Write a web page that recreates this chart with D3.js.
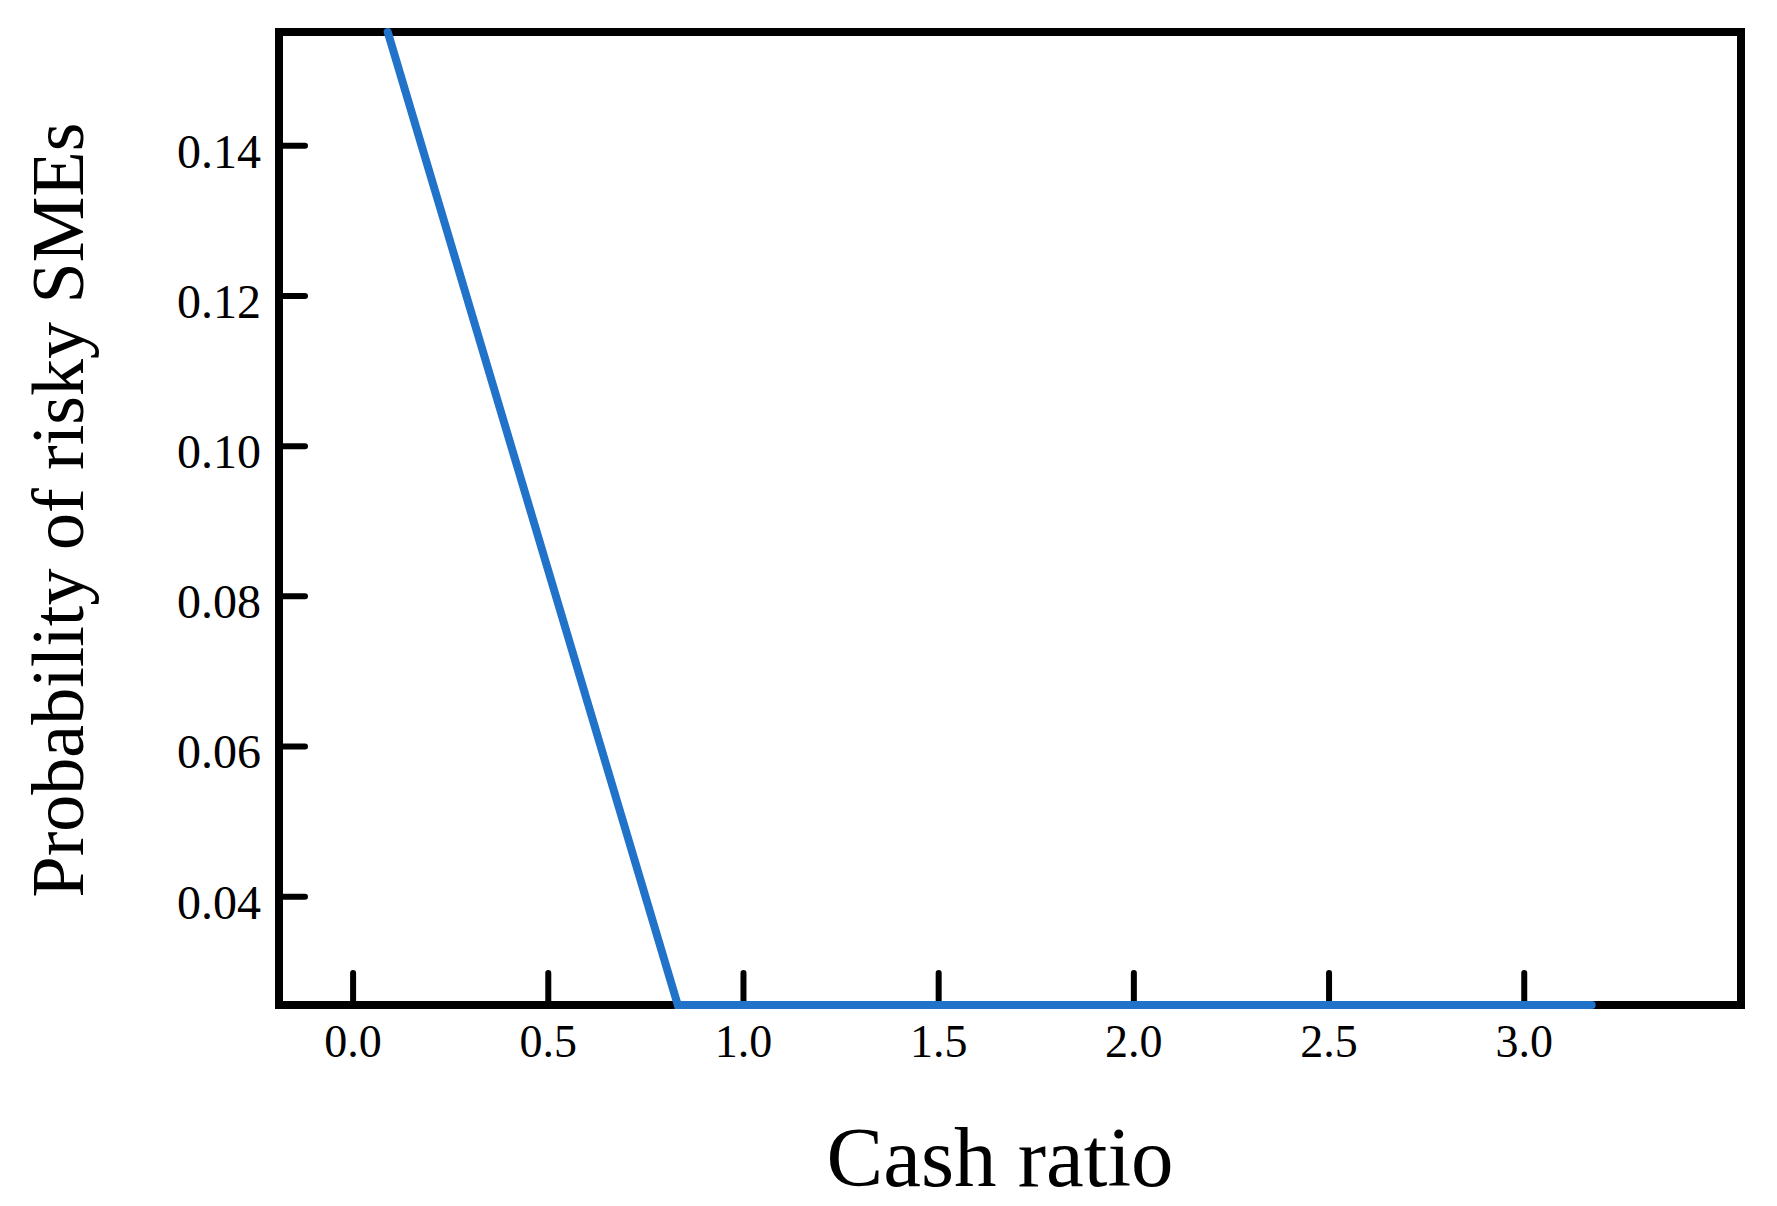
<!DOCTYPE html>
<html>
<head>
<meta charset="utf-8">
<script src="https://cdn.jsdelivr.net/npm/d3@7"></script>
<style>
  body { margin: 0; background: #fff; }
  text { font-family: 'Liberation Serif', 'Times New Roman', serif; fill: #000; }
</style>
</head>
<body>
<script>
// partial dependence of risk on cash ratio
const cashRatio = [0.09, 0.833, 3.174];
const probRisky = [0.1551, 0.0255, 0.0255];
const xTicks = [0, 0.5, 1, 1.5, 2, 2.5, 3];
const yTicks = [0.04, 0.06, 0.08, 0.10, 0.12, 0.14];
const xLabel = 'Cash ratio';
const yLabel = 'Probability of risky SMEs';

const width = 1777;
const height = 1206;
const margin = {top: 32, right: 36, bottom: 201, left: 279};

const x = d3.scaleLinear()
  .domain([-0.1885, 3.5565])
  .range([margin.left, width - margin.right]);

const y = d3.scaleLinear()
  .domain([0.0255, 0.1551])
  .range([height - margin.bottom, margin.top]);

const svg = d3.select('body')
  .append('svg')
  .attr('width', width)
  .attr('height', height);

// x axis, ticks pointing in
const gx = svg.append('g')
  .attr('transform', `translate(0,${height - margin.bottom})`)
  .call(d3.axisBottom(x).tickValues(xTicks).tickSize(-32).tickPadding(19).tickFormat(d3.format('.1f')));
gx.select('.domain').remove();
gx.selectAll('.tick line')
  .attr('stroke', '#000')
  .attr('stroke-width', 6)
  .attr('stroke-linecap', 'round');
gx.selectAll('.tick text')
  .attr('font-size', 46)
  .attr('dy', '0.71em');

// y axis
const gy = svg.append('g')
  .attr('transform', `translate(${margin.left},0)`)
  .call(d3.axisLeft(y).tickValues(yTicks).tickSize(-26).tickPadding(18).tickFormat(d3.format('.2f')));
gy.select('.domain').remove();
gy.selectAll('.tick line')
  .attr('stroke', '#000')
  .attr('stroke-width', 6)
  .attr('stroke-linecap', 'round');
gy.selectAll('.tick text')
  .attr('font-size', 48)
  .attr('dy', 22);

// frame
svg.append('rect')
  .attr('x', margin.left)
  .attr('y', margin.top)
  .attr('width', width - margin.left - margin.right)
  .attr('height', height - margin.top - margin.bottom)
  .attr('fill', 'none')
  .attr('stroke', '#000')
  .attr('stroke-width', 8);

const line = d3.line()
  .x((d, i) => x(cashRatio[i]))
  .y(d => y(d));

svg.append('path')
  .datum(probRisky)
  .attr('d', line)
  .attr('fill', 'none')
  .attr('stroke', '#2073c8')
  .attr('stroke-width', 8)
  .attr('stroke-linecap', 'round')
  .attr('stroke-linejoin', 'miter');

svg.append('text')
  .attr('x', 1000)
  .attr('y', 1186)
  .attr('text-anchor', 'middle')
  .attr('font-size', 85)
  .text(xLabel);

svg.append('text')
  .attr('transform', 'translate(83,510) rotate(-90)')
  .attr('text-anchor', 'middle')
  .attr('font-size', 74)
  .text(yLabel);
</script>
</body>
</html>
